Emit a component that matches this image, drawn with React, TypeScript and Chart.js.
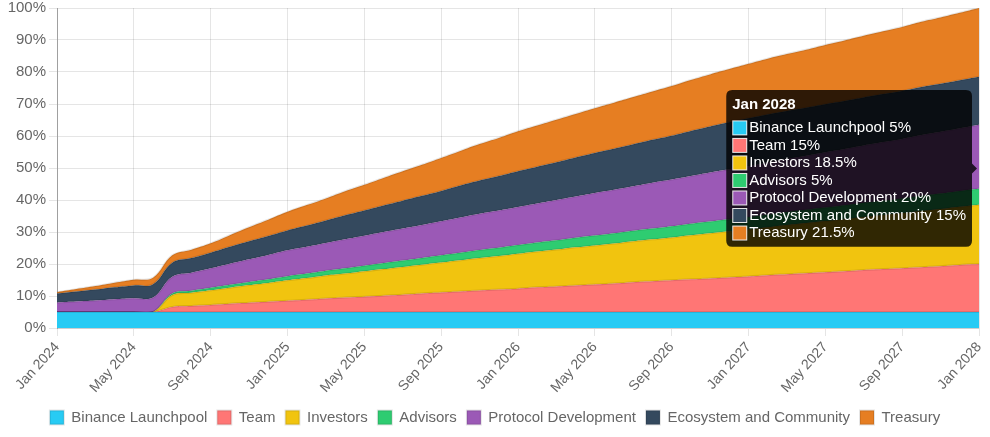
import React, { useEffect, useRef } from 'react';
import { Chart, registerables } from 'chart.js';

Chart.register(...registerables);

const months = [
  'Jan 2024', 'Feb 2024', 'Mar 2024', 'Apr 2024', 'May 2024', 'Jun 2024', 'Jul 2024', 'Aug 2024', 'Sep 2024', 'Oct 2024', 'Nov 2024', 'Dec 2024',
  'Jan 2025', 'Feb 2025', 'Mar 2025', 'Apr 2025', 'May 2025', 'Jun 2025', 'Jul 2025', 'Aug 2025', 'Sep 2025', 'Oct 2025', 'Nov 2025', 'Dec 2025',
  'Jan 2026', 'Feb 2026', 'Mar 2026', 'Apr 2026', 'May 2026', 'Jun 2026', 'Jul 2026', 'Aug 2026', 'Sep 2026', 'Oct 2026', 'Nov 2026', 'Dec 2026',
  'Jan 2027', 'Feb 2027', 'Mar 2027', 'Apr 2027', 'May 2027', 'Jun 2027', 'Jul 2027', 'Aug 2027', 'Sep 2027', 'Oct 2027', 'Nov 2027', 'Dec 2027',
  'Jan 2028',
];

const binanceLaunchpool = [
  5, 5, 5, 5, 5, 5, 5, 5, 5, 5, 5, 5,
  5, 5, 5, 5, 5, 5, 5, 5, 5, 5, 5, 5,
  5, 5, 5, 5, 5, 5, 5, 5, 5, 5, 5, 5,
  5, 5, 5, 5, 5, 5, 5, 5, 5, 5, 5, 5,
  5,
];

const team = [
  0, 0, 0, 0, 0, 0, 1.6, 1.9, 2.2, 2.6, 2.9, 3.2,
  3.5, 3.8, 4.2, 4.5, 4.8, 5.1, 5.4, 5.8, 6.1, 6.4, 6.7, 7.0,
  7.3, 7.7, 8.0, 8.3, 8.6, 8.9, 9.3, 9.6, 9.9, 10.2, 10.5, 10.8,
  11.1, 11.5, 11.8, 12.1, 12.4, 12.7, 13.1, 13.4, 13.7, 14.0, 14.3, 14.7,
  15,
];

const investors = [
  0, 0, 0, 0, 0, 0, 3.7, 4.15, 4.6, 5.0, 5.5, 5.9,
  6.4, 6.8, 7.2, 7.5, 7.9, 8.3, 8.7, 9.0, 9.4, 9.8, 10.2, 10.5,
  10.9, 11.2, 11.5, 11.9, 12.2, 12.5, 12.8, 13.1, 13.4, 13.8, 14.1, 14.4,
  14.7, 15.0, 15.4, 15.7, 16.0, 16.3, 16.6, 16.9, 17.2, 17.6, 17.9, 18.2,
  18.5,
];

const advisors = [
  0, 0, 0, 0, 0, 0, 0.5, 0.6, 0.75, 0.9, 1.0, 1.15,
  1.3, 1.4, 1.5, 1.65, 1.75, 1.9, 2.0, 2.1, 2.25, 2.35, 2.5, 2.6,
  2.7, 2.8, 2.9, 3.0, 3.1, 3.2, 3.3, 3.4, 3.5, 3.6, 3.7, 3.8,
  3.85, 3.95, 4.05, 4.15, 4.25, 4.35, 4.45, 4.5, 4.6, 4.7, 4.8, 4.9,
  5,
];

const protocolDevelopment = [
  3.0, 3.3, 3.6, 4.0, 4.3, 4.5, 5.2, 5.6, 6.1, 6.6, 7.1, 7.6,
  8.1, 8.4, 8.7, 9.1, 9.4, 9.7, 10.0, 10.3, 10.6, 11.0, 11.3, 11.6,
  11.9, 12.2, 12.6, 12.9, 13.3, 13.6, 13.9, 14.3, 14.6, 14.9, 15.3, 15.6,
  15.9, 16.3, 16.6, 16.9, 17.3, 17.6, 17.9, 18.3, 18.6, 19.0, 19.3, 19.6,
  20,
];

const ecosystemAndCommunity = [
  2.8, 3.1, 3.4, 3.7, 4.0, 4.2, 4.4, 4.6, 4.9, 5.3, 5.6, 5.9,
  6.2, 6.6, 7.0, 7.5, 7.9, 8.3, 8.7, 9.1, 9.5, 10.0, 10.4, 10.8,
  11.2, 11.5, 11.8, 12.2, 12.5, 12.8, 13.1, 13.4, 13.7, 14.1, 14.4, 14.7,
  15, 15, 15, 15, 15, 15, 15, 15, 15, 15, 15, 15,
  15,
];

const treasury = [
  0.4, 0.75, 1.1, 1.45, 1.8, 2.0, 2.3, 2.6, 2.9, 3.6, 4.4, 5.1,
  5.8, 6.4, 6.9, 7.5, 8.0, 8.6, 9.2, 9.7, 10.3, 10.8, 11.4, 11.9,
  12.5, 12.9, 13.3, 13.6, 14.0, 14.4, 14.75, 15.1, 15.5, 15.9, 16.25, 16.6,
  17.0, 17.4, 17.75, 18.1, 18.5, 18.9, 19.25, 19.6, 20.0, 20.4, 20.75, 21.1,
  21.5,
];

const seriesNames = [
  'Binance Launchpool',
  'Team',
  'Investors',
  'Advisors',
  'Protocol Development',
  'Ecosystem and Community',
  'Treasury',
];
const seriesData = [binanceLaunchpool, team, investors, advisors, protocolDevelopment, ecosystemAndCommunity, treasury];
const seriesColors = ['#27cbf4', '#ff7675', '#f1c40f', '#2ecc71', '#9b59b6', '#34495e', '#e67e22'];

const yTicks = [0, 10, 20, 30, 40, 50, 60, 70, 80, 90, 100];
const tooltipIndex = months.length - 1;

export default function App() {
  const ref = useRef<HTMLCanvasElement>(null);

  useEffect(() => {
    if (!ref.current) return;
    Chart.defaults.font.family = "'Liberation Sans', Arial, Helvetica, sans-serif";
    Chart.defaults.font.size = 15;
    Chart.defaults.color = '#666';

    const datasets = seriesNames.map((name, i) => ({
      label: name,
      data: seriesData[i],
      backgroundColor: seriesColors[i],
      borderColor: 'rgba(0,0,0,0.1)',
      borderWidth: 2,
      fill: i === 0 ? 'origin' : '-1',
      pointRadius: 0,
      pointHoverRadius: 0,
      pointHitRadius: 0,
      tension: 0.4,
    }));

    const chart = new Chart(ref.current, {
      type: 'line',
      data: { labels: months, datasets: datasets as any },
      options: {
        responsive: false,
        animation: false,
        layout: { padding: { bottom: 2 } },
        interaction: { mode: 'index', intersect: false },
        scales: {
          x: {
            grid: { color: 'rgba(0,0,0,0.1)' },
            border: { color: 'rgba(0,0,0,0.1)' },
            ticks: {
              autoSkip: false,
              minRotation: 48,
              maxRotation: 48,
              font: { size: 14 },
              callback: (_v: any, i: number) => (i % 4 === 0 ? months[i] : null),
            },
            afterFit: (s: any) => {
              s.paddingRight = 3;
              s.paddingLeft = 0;
              s.height = 72;
            },
          },
          y: {
            stacked: true,
            min: yTicks[0],
            max: yTicks[yTicks.length - 1],
            grid: { color: 'rgba(0,0,0,0.1)' },
            border: { color: 'rgba(0,0,0,0.3)' },
            ticks: {
              stepSize: 10,
              callback: (v: any) => v + '%',
            },
            afterFit: (s: any) => {
              s.paddingTop = 8;
              s.width = 49;
            },
          },
        },
        plugins: {
          legend: {
            position: 'bottom',
            labels: { boxWidth: 14, boxHeight: 14, padding: 10, color: '#666', font: { size: 15 } },
          },
          tooltip: {
            backgroundColor: 'rgba(0,0,0,0.8)',
            titleFont: { size: 15, weight: 'bold' },
            bodyFont: { size: 15, lineHeight: 1.035 },
            bodySpacing: 2,
            padding: 6,
            caretSize: 5,
            cornerRadius: 6,
            callbacks: {
              label: (ctx: any) => `${ctx.dataset.label} ${ctx.parsed.y}%`,
            },
          },
        },
      } as any,
    });

    const active = seriesNames.map((_, i) => ({ datasetIndex: i, index: tooltipIndex }));
    chart.tooltip?.setActiveElements(active, { x: 0, y: 0 });
    chart.update();

    return () => chart.destroy();
  }, []);

  return (
    <div style={{ position: 'fixed', left: 8, top: 0, width: 974, height: 437 }}>
      <canvas ref={ref} width={974} height={437} style={{ display: 'block', width: 974, height: 437 }} />
    </div>
  );
}
